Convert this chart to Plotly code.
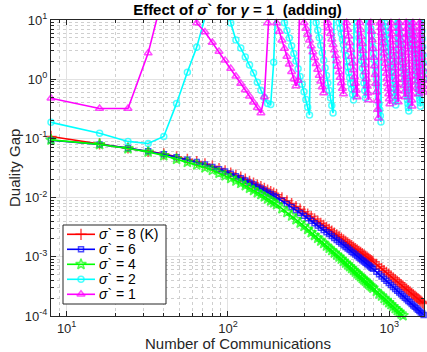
import plotly.graph_objects as go

# ---------------- data ----------------
x_lo = list(range(8, 201, 8)) + list(range(216, 793, 16)) + list(range(832, 1633, 32))

red_y = [0.108, 0.0809, 0.0689, 0.0607, 0.0547, 0.0489, 0.0444, 0.0407, 0.0371, 0.0340,
         0.0310, 0.0284, 0.0260, 0.0239, 0.0221, 0.0205, 0.0189, 0.0176, 0.0163, 0.0153,
         0.0143, 0.0134, 0.0126, 0.0119, 0.0112,
         0.00991, 0.00883, 0.00794, 0.00708, 0.00638, 0.00578, 0.00526, 0.00479, 0.00437, 0.00402,
         0.00369, 0.00341, 0.00315, 0.00292, 0.00272, 0.00252, 0.00235, 0.00221, 0.00207, 0.00194,
         0.00183, 0.00172, 0.00163, 0.00154, 0.00146, 0.00138, 0.00131, 0.00124, 0.00119, 0.00113,
         0.00108, 0.00103, 0.000984, 0.000938, 0.000899, 0.000863, 0.000826,
         0.000745, 0.000684, 0.000635, 0.000587, 0.000548, 0.000508, 0.000475, 0.000442, 0.000412,
         0.000386, 0.000363, 0.000340, 0.000319, 0.000301, 0.000284, 0.000269, 0.000255, 0.000240,
         0.000228, 0.000217, 0.000206, 0.000196, 0.000187, 0.000178, 0.000170, 0.000162]

blue_y = [0.0933, 0.0792, 0.0684, 0.0605, 0.0538, 0.0480, 0.0435, 0.0398, 0.0361, 0.0330,
          0.0301, 0.0275, 0.0252, 0.0230, 0.0212, 0.0195, 0.0179, 0.0166, 0.0153, 0.0143,
          0.0132, 0.0122, 0.0115, 0.0107, 0.0101,
          0.00881, 0.00778, 0.00692, 0.00614, 0.00551, 0.00495, 0.00448, 0.00406, 0.00368, 0.00337,
          0.00309, 0.00284, 0.00261, 0.00242, 0.00224, 0.00207, 0.00193, 0.00180, 0.00168, 0.00157,
          0.00147, 0.00138, 0.00130, 0.00122, 0.00116, 0.00109, 0.00103, 0.000975, 0.000927, 0.000877,
          0.000834, 0.000796, 0.000757, 0.000719, 0.000687, 0.000656, 0.000627,
          0.000557, 0.000506, 0.000466, 0.000425, 0.000393, 0.000361, 0.000335, 0.000309, 0.000286,
          0.000267, 0.000249, 0.000233, 0.000217, 0.000204, 0.000191, 0.000180, 0.000170, 0.000159,
          0.000150, 0.000143, 0.000135, 0.000128, 0.000122, 0.000115, 0.000110, 0.000104]

green_y = [0.0944, 0.0792, 0.0673, 0.0592, 0.0513, 0.0446, 0.0397, 0.0358, 0.0321, 0.0290,
           0.0260, 0.0235, 0.0212, 0.0192, 0.0175, 0.0160, 0.0145, 0.0133, 0.0122, 0.0113,
           0.0104, 0.00955, 0.00883, 0.00822, 0.00764,
           0.00653, 0.00565, 0.00492, 0.00426, 0.00373, 0.00329, 0.00291, 0.00258, 0.00230, 0.00207,
           0.00186, 0.00169, 0.00153, 0.00140, 0.00128, 0.00117, 0.00108, 0.000998, 0.000923, 0.000851,
           0.000789, 0.000733, 0.000684, 0.000638, 0.000596, 0.000556, 0.000521, 0.000490, 0.000462, 0.000434,
           0.000409, 0.000389, 0.000367, 0.000347, 0.000329, 0.000313, 0.000297,
           0.000263, 0.000238, 0.000219, 0.000200, 0.000184, 0.000169, 0.000157, 0.000145, 0.000134,
           0.000125, 0.000117, 0.000109, 0.000102]

# sigma = 2 and sigma = 1 runs are logged every 8 communications
x_hi = list(range(8, 1641, 8))

cyan_y = [0.187, 0.122, 0.089, 0.082, 0.108, 0.39, 1.31, 3.48, 11, 80, 150, 40, 8.9, 4.58, 3.35, 2.37,
          1.73, 1.27, 0.89, 0.65, 0.49, 0.39, 0.375, 1.94, 40, 60, 20,
          9, 6.675, 4.951, 3.672, 2.724, 2.020, 1.498, 1.111, 0.824, 0.611, 0.453, 0.336, 0.249,
          50, 40, 20,
          9, 6.715, 5.010, 3.738, 2.789, 2.081, 1.553, 1.158, 0.864, 0.645, 0.481, 0.359, 0.268,
          50, 40, 25, 12,
          9, 7.262, 5.860, 4.728, 3.815, 3.079, 2.484, 2.005, 1.618, 1.305, 1.053, 0.850, 0.686, 0.553, 0.446,
          50, 30, 15,
          9, 6.712, 5.006, 3.733, 2.784, 2.076, 1.549, 1.155, 0.861, 0.642, 0.479,
          50, 40, 30, 20, 12,
          9, 7.069, 5.553, 4.362, 3.426, 2.691, 2.114, 1.661, 1.304, 1.025, 0.805, 0.632, 0.497, 0.390,
          0.306, 0.241, 0.189,
          50, 40, 25, 12, 11,
          9, 7.668, 6.533, 5.566, 4.742, 4.040, 3.442, 2.933, 2.499, 2.129, 1.814, 1.545, 1.317, 1.122,
          0.956, 0.814, 0.694, 0.591, 0.504, 0.429, 0.366,
          50, 30, 12,
          9, 7.799, 6.759, 5.857, 5.076, 4.399, 3.812, 3.304, 2.863, 2.481, 2.150, 1.863, 1.615, 1.399,
          1.213, 1.051, 0.911, 0.789, 0.684, 0.593, 0.514, 0.445, 0.386, 0.334, 0.290,
          50, 30, 15, 10.5,
          9, 7.904, 6.941, 6.096, 5.353, 4.701, 4.129, 3.626, 3.184, 2.796, 2.456, 2.157, 1.894, 1.663,
          1.461, 1.283, 1.127, 0.989, 0.869, 0.763, 0.670, 0.589, 0.517, 0.454, 0.399, 0.350,
          50, 30,
          9, 6.575, 4.804, 3.510, 2.564, 1.873, 1.369, 1.0]

mag_y = [0.476, 0.32, 0.32, 2.76, 30, 200, 300, 8.9, 6.26, 4.16, 2.95, 2.08, 1.51, 1.12, 0.845, 0.656,
         0.515, 0.408, 0.33, 0.268, 0.50, 8.9, 40, 20,
         8.9, 6.37, 4.54, 3.29, 2.41, 1.79, 1.34, 1.01, 0.767, 0.95, 50, 25,
         9, 7.168, 5.708, 4.546, 3.620, 2.883, 2.296, 1.829, 1.456, 1.160, 0.924, 0.736, 0.586,
         60, 30,
         9, 7.272, 5.876, 4.748, 3.836, 3.100, 2.505, 2.024, 1.635, 1.321, 1.068, 0.863, 0.697, 0.563,
         50, 30,
         9, 6.921, 5.322, 4.093, 3.147, 2.420, 1.861, 1.431, 1.101, 0.846, 0.651, 0.501,
         50, 30,
         9, 6.847, 5.209, 3.963, 3.015, 2.294, 1.745, 1.328, 1.010, 0.768, 0.585, 0.445,
         50, 30,
         9, 6.422, 4.582, 3.269, 2.333, 1.664, 1.188, 0.847, 0.605, 0.431, 0.308, 0.220,
         60, 30,
         9, 7.385, 6.059, 4.971, 4.079, 3.347, 2.746, 2.253, 1.849, 1.517, 1.245, 1.021, 0.838, 0.688,
         0.564, 0.463, 0.380,
         50,
         9, 7.218, 5.789, 4.643, 3.723, 2.986, 2.395, 1.921, 1.540, 1.235, 0.991, 0.795, 0.637, 0.511, 0.410,
         50,
         9, 7.206, 5.770, 4.620, 3.699, 2.962, 2.372, 1.899, 1.521, 1.218, 0.975, 0.781, 0.625, 0.500,
         50,
         9, 7.137, 5.660, 4.488, 3.559, 2.823, 2.238, 1.775, 1.408, 1.116, 0.885, 0.702, 0.557, 0.441, 0.350,
         50,
         9, 7.566, 6.361, 5.348, 4.496, 3.780, 3.178, 2.671, 2.246, 1.888, 1.587, 1.334, 1.122, 0.943,
         0.793, 0.667, 0.560,
         50,
         9, 7.182, 5.731, 4.574, 3.650, 2.912, 2.324, 1.855, 1.480, 1.181, 0.943, 0.752, 0.600]

names = ["<i>σ</i>` = 8 (K)", "<i>σ</i>` = 6", "<i>σ</i>` = 4", "<i>σ</i>` = 2", "<i>σ</i>` = 1"]

x_tickvals = [10, 100, 1000]
x_ticktext = ["10<sup>1</sup>", "10<sup>2</sup>", "10<sup>3</sup>"]
y_tickvals = [1e-4, 1e-3, 1e-2, 1e-1, 1, 10]
y_ticktext = ["10<sup>-4</sup>", "10<sup>-3</sup>", "10<sup>-2</sup>", "10<sup>-1</sup>",
              "10<sup>0</sup>", "10<sup>1</sup>"]

# ---------------- figure ----------------
FONT = "Liberation Sans, Arial, Helvetica, sans-serif"
INK = "#262626"
YMAX = 10
W, H = 427, 352
L, R, T, B = 51, 3, 20, 36
PW, PH = W - L - R, H - T - B

series = [
    (names[0], x_lo, red_y, "#FF0000", "cross-thin-open", 8),
    (names[1], x_lo[:len(blue_y)], blue_y, "#0000FF", "square-open", 5),
    (names[2], x_lo[:len(green_y)], green_y, "#00FF00", "star-open", 8),
    (names[3], x_hi, cyan_y, "#00FFFF", "circle-open", 6),
    (names[4], x_hi, mag_y, "#FF00FF", "triangle-up-open", 7),
]

fig = go.Figure()
for name, xs, ys, col, sym, sz in series:
    sizes = [sz if v <= YMAX else 0 for v in ys]
    fig.add_trace(go.Scatter(
        x=xs, y=ys, mode="lines+markers", name=name, showlegend=False,
        line=dict(color=col, width=1.6),
        marker=dict(symbol=sym, size=sizes, color=col, line=dict(color=col, width=1.5)),
        cliponaxis=False,
    ))

# ---- hand-drawn legend on an overlay axis measured in pixels of the plot area ----
LB = dict(x0=63, x1=166, y0=225, y1=304)
fig.add_trace(go.Scatter(
    x=[LB["x0"], LB["x1"], LB["x1"], LB["x0"], LB["x0"]],
    y=[LB["y0"], LB["y0"], LB["y1"], LB["y1"], LB["y0"]],
    xaxis="x2", yaxis="y2", mode="lines", fill="toself", fillcolor="white",
    line=dict(color=INK, width=1), showlegend=False, hoverinfo="skip"))
for i, (name, xs, ys, col, sym, sz) in enumerate(series):
    yc = 234.3 + 15 * i
    fig.add_trace(go.Scatter(
        x=[67, 81, 95], y=[yc, yc, yc], xaxis="x2", yaxis="y2", mode="lines+markers",
        line=dict(color=col, width=1.6),
        marker=dict(symbol=sym, size=[0, sz, 0], color=col, line=dict(color=col, width=1.5)),
        showlegend=False, hoverinfo="skip", cliponaxis=False))
    fig.add_annotation(x=96.5, y=yc, xref="x2", yref="y2", text=name, showarrow=False,
                       xanchor="left", yanchor="middle",
                       font=dict(family=FONT, size=14, color="black"))

axis_common = dict(
    type="log", ticks="inside", ticklen=5, tickcolor=INK, tickwidth=1,
    showline=True, linecolor=INK, linewidth=1, mirror="ticks",
    showgrid=True, gridcolor="#e2e2e2", gridwidth=1, zeroline=False,
    minor=dict(dtick="D1", ticks="inside", ticklen=3, tickcolor=INK,
               showgrid=True, gridcolor="#cfcfcf", griddash="dot", gridwidth=1),
    tickfont=dict(family=FONT, size=13, color=INK),
    automargin=False,
)

fig.update_layout(
    width=W, height=H,
    margin=dict(l=L, r=R, t=T, b=B),
    paper_bgcolor="white", plot_bgcolor="white",
    title=dict(text="<b>Effect of <i>σ</i>` for <i>γ</i> = 1 &nbsp;(adding)</b>",
               x=0.5, xref="paper", xanchor="center", y=1 - 10 / H, yanchor="middle",
               font=dict(family=FONT, size=15, color="black")),
    xaxis=dict(axis_common, range=[0.903, 3.215], tickvals=x_tickvals, ticktext=x_ticktext),
    yaxis=dict(axis_common, range=[-4, 1], tickvals=y_tickvals, ticktext=y_ticktext),
    xaxis2=dict(overlaying="x", anchor="y2", range=[L, W - R], visible=False, fixedrange=True),
    yaxis2=dict(overlaying="y", anchor="x2", range=[H - B, T], visible=False, fixedrange=True),
    showlegend=False,
    hovermode=False,
    annotations=list(fig.layout.annotations) + [
        dict(text="Number of Communications", x=0.5, y=(H - B - 343) / PH, xref="paper", yref="paper",
             xanchor="center", yanchor="middle", showarrow=False,
             font=dict(family=FONT, size=15, color=INK)),
        dict(text="Duality Gap", x=(14 - L) / PW, y=(H - B - 168) / PH, xref="paper", yref="paper",
             xanchor="center", yanchor="middle", showarrow=False, textangle=-90,
             font=dict(family=FONT, size=15, color=INK)),
    ],
)

fig.write_html("out.html", config={"displayModeBar": False, "staticPlot": True},
               post_script="document.body.style.margin='0';document.body.style.overflow='hidden';")
